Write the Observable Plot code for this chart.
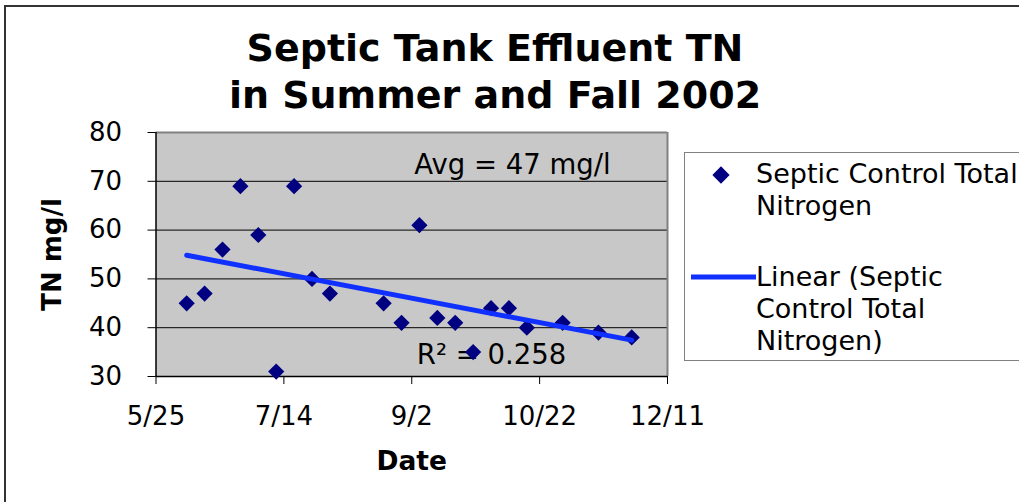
<!DOCTYPE html>
<html>
<head>
<meta charset="utf-8">
<script src="https://cdn.jsdelivr.net/npm/d3@7"></script>
<script src="https://cdn.jsdelivr.net/npm/@observablehq/plot@0.6"></script>
<style>
  html, body { margin: 0; padding: 0; background: #fff; }
  #wrap { position: relative; width: 1019px; height: 502px; overflow: hidden; font-family: "DejaVu Sans", Verdana, sans-serif; }
  #wrap svg.plot { position: absolute; left: 0; top: 0; }
  #border { position: absolute; left: 4px; top: 5px; width: 1100px; height: 600px; border-left: 2px solid #333; border-top: 2px solid #333; }
  #title { position: absolute; left: 0; width: 990px; top: 25px; text-align: center; font-weight: bold; font-size: 38px; line-height: 47px; color: #000; }
  #legend { position: absolute; left: 684px; top: 152px; width: 400px; height: 207px; border: 1.5px solid #808080; background: #fff; font-size: 27px; color: #000; }
  .lg { position: absolute; left: 71px; line-height: 32px; }
  .sym { position: absolute; }
</style>
</head>
<body>
<div id="wrap">
  <div id="border"></div>
  <div id="title">Septic Tank Effluent TN<br>in Summer and Fall 2002</div>
  <div id="legend"></div>
</div>
<script>
// ---- data ----
const dates = ["2002-06-06","2002-06-13","2002-06-20","2002-06-27","2002-07-04","2002-07-11","2002-07-18","2002-07-25","2002-08-01",
               "2002-08-22","2002-08-29","2002-09-05","2002-09-12","2002-09-19","2002-09-26","2002-10-03","2002-10-10","2002-10-17",
               "2002-10-31","2002-11-14","2002-11-27"];
const tnValues = [45, 47, 56, 69, 59, 31, 69, 50, 47, 45, 41, 61, 42, 41, 35, 44, 44, 40, 41, 39, 38];
const seriesName = "Septic Control Total Nitrogen";
const trendName = "Linear (Septic Control Total Nitrogen)";
const xTickLabels = ["2002-05-25","2002-07-14","2002-09-02","2002-10-22","2002-12-11"];
const yTickValues = [30, 40, 50, 60, 70, 80];
const gridValues = [40, 50, 60, 70];
const noteTexts = ["Avg = 47 mg/l", "R\u00B2 = 0.258"];
const noteDates = ["2002-09-03", "2002-09-04"];
const noteValues = [73.4, 34.3];

// ---- derived ----
const parse = d3.utcParse("%Y-%m-%d");
const data = dates.map((d, i) => ({date: parse(d), tn: tnValues[i]}));
const xTicks = xTickLabels.map(parse);
const notes = noteTexts.map((t, i) => ({text: t, date: parse(noteDates[i]), v: noteValues[i]}));

// linear regression (Excel-style trendline) over the data extent
const xs = data.map(d => +d.date), ys = data.map(d => d.tn);
const mx = d3.mean(xs), my = d3.mean(ys);
const slope = d3.sum(xs.map((x, i) => (x - mx) * (ys[i] - my))) / d3.sum(xs.map(x => (x - mx) ** 2));
const icpt = my - slope * mx;
const [x0, x1] = d3.extent(xs);
const trend = [x0, x1].map(x => ({date: new Date(x), tn: icpt + slope * x}));

const navy = "#000080";
const blue = "#1030ff";

const chart = Plot.plot({
  width: 1019,
  height: 502,
  marginLeft: 155.5,
  marginRight: 352,
  marginTop: 132,
  marginBottom: 126,
  style: {fontFamily: "DejaVu Sans, Verdana, sans-serif", fontSize: "26px", color: "#000", background: "transparent"},
  x: {type: "utc", domain: [xTicks[0], xTicks[xTicks.length - 1]]},
  y: {domain: [30, 80]},
  marks: [
    Plot.frame({fill: "#c8c8c8", stroke: null}),
    Plot.ruleY(gridValues, {stroke: "#000", strokeWidth: 1}),
    Plot.ruleY([80], {stroke: "#808080", strokeWidth: 2}),
    Plot.ruleX([xTicks[xTicks.length - 1]], {stroke: "#808080", strokeWidth: 2}),
    Plot.ruleY([30], {stroke: "#000", strokeWidth: 1.5}),
    Plot.ruleX([xTicks[0]], {stroke: "#000", strokeWidth: 1.5}),
    Plot.axisY({ticks: yTickValues, tickSize: 8, tickPadding: 26, fontSize: 26, label: null, stroke: "#000"}),
    Plot.axisX({ticks: xTicks, tickFormat: d3.utcFormat("%-m/%-d"), tickSize: 8, tickPadding: 22, fontSize: 26, label: null, stroke: "#000"}),
    Plot.text(notes, {x: "date", y: "v", text: "text", textAnchor: "start", fontSize: 27.5, fill: "#000"}),
    Plot.dot(data, {x: "date", y: "tn", symbol: "diamond2", r: 7.3, fill: navy, stroke: null}),
    Plot.line(trend, {x: "date", y: "tn", stroke: blue, strokeWidth: 5}),
    Plot.text(["TN mg/l"], {frameAnchor: "left", textAnchor: "middle", dx: -103.5, rotate: -90, fontWeight: "bold", fontSize: 26, fill: "#000"}),
    Plot.text(["Date"], {frameAnchor: "bottom", textAnchor: "middle", dy: 93, fontWeight: "bold", fontSize: 26.5, fill: "#000"})
  ]
});
document.getElementById("wrap").appendChild(chart);

// ---- legend ----
const legend = d3.select("#legend");
const s1 = legend.append("svg").attr("class", "sym").attr("width", 24).attr("height", 24)
  .style("left", "24px").style("top", "10px");
s1.append("path").attr("d", d3.symbol(d3.symbolDiamond2, 190)()).attr("transform", "translate(12,12)").attr("fill", navy);
legend.append("div").attr("class", "lg").style("top", "5px").html(seriesName.replace("Total ", "Total<br>"));
const s2 = legend.append("svg").attr("class", "sym").attr("width", 66).attr("height", 10)
  .style("left", "5px").style("top", "119px");
s2.append("line").attr("x1", 1).attr("x2", 66).attr("y1", 5).attr("y2", 5).attr("stroke", blue).attr("stroke-width", 5);
legend.append("div").attr("class", "lg").style("top", "108px").html(trendName.replace("(Septic ", "(Septic<br>").replace("Total ", "Total<br>"));
</script>
</body>
</html>
